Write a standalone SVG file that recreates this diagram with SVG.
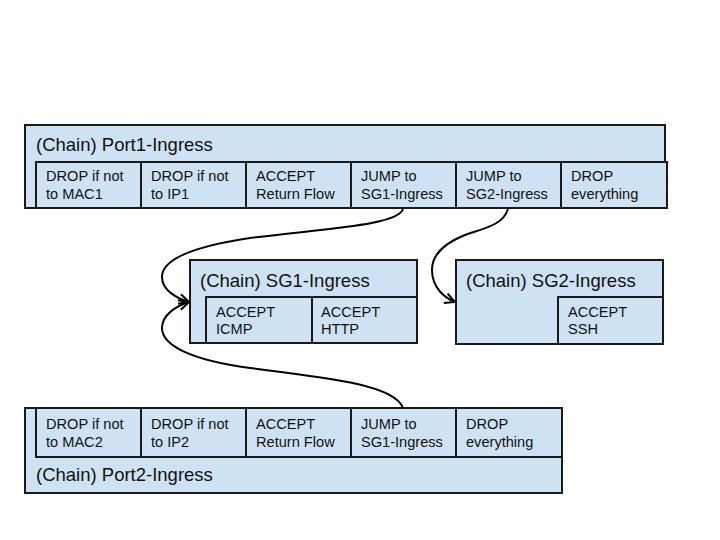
<svg xmlns="http://www.w3.org/2000/svg" width="720" height="540" viewBox="0 0 720 540">
<defs>
<style>
.box{fill:#cfe2f3;stroke:#1a1a1a;stroke-width:2}
.title{font-family:"Liberation Sans",Arial,sans-serif;font-size:18.5px;fill:#111}
.cell{font-family:"Liberation Sans",Arial,sans-serif;font-size:14.6px;fill:#111}
.conn{fill:none;stroke:#000;stroke-width:2}
</style>
<marker id="arr" viewBox="0 0 12 12" refX="11" refY="6" markerWidth="12" markerHeight="12" markerUnits="userSpaceOnUse" orient="auto">
<path d="M1,1 L11,6 L1,11" fill="none" stroke="#000" stroke-width="2"/>
</marker>
</defs>
<rect width="720" height="540" fill="#fff"/>

<g id="port1">
<rect class="box" x="25" y="125" width="640" height="83"/>
<text class="title" x="36" y="151">(Chain) Port1-Ingress</text>
<rect class="box" x="36" y="162" width="105" height="46"/>
<rect class="box" x="141" y="162" width="105" height="46"/>
<rect class="box" x="246" y="162" width="105" height="46"/>
<rect class="box" x="351" y="162" width="105" height="46"/>
<rect class="box" x="456" y="162" width="105" height="46"/>
<rect class="box" x="561" y="162" width="106" height="46"/>
<text class="cell"><tspan x="46" y="181">DROP if not</tspan><tspan x="46" y="199">to MAC1</tspan></text>
<text class="cell"><tspan x="151" y="181">DROP if not</tspan><tspan x="151" y="199">to IP1</tspan></text>
<text class="cell"><tspan x="256" y="181">ACCEPT</tspan><tspan x="256" y="199">Return Flow</tspan></text>
<text class="cell"><tspan x="361" y="181">JUMP to</tspan><tspan x="361" y="199">SG1-Ingress</tspan></text>
<text class="cell"><tspan x="466" y="181">JUMP to</tspan><tspan x="466" y="199">SG2-Ingress</tspan></text>
<text class="cell"><tspan x="571" y="181">DROP</tspan><tspan x="571" y="199">everything</tspan></text>
</g>

<g id="sg1">
<rect class="box" x="190" y="260" width="227" height="83"/>
<text class="title" x="200" y="287">(Chain) SG1-Ingress</text>
<rect class="box" x="206" y="297" width="106" height="46"/>
<rect class="box" x="312" y="297" width="105" height="46"/>
<text class="cell"><tspan x="216" y="317">ACCEPT</tspan><tspan x="216" y="334">ICMP</tspan></text>
<text class="cell"><tspan x="321" y="317">ACCEPT</tspan><tspan x="321" y="334">HTTP</tspan></text>
</g>

<g id="sg2">
<rect class="box" x="456" y="260" width="207" height="84"/>
<text class="title" x="466" y="287">(Chain) SG2-Ingress</text>
<rect class="box" x="558" y="297" width="105" height="47"/>
<text class="cell"><tspan x="568" y="317">ACCEPT</tspan><tspan x="568" y="334">SSH</tspan></text>
</g>

<g id="port2">
<rect class="box" x="25" y="408" width="537" height="85"/>
<rect class="box" x="36" y="408" width="105" height="49"/>
<rect class="box" x="141" y="408" width="105" height="49"/>
<rect class="box" x="246" y="408" width="105" height="49"/>
<rect class="box" x="351" y="408" width="105" height="49"/>
<rect class="box" x="456" y="408" width="106" height="49"/>
<text class="cell"><tspan x="46" y="429">DROP if not</tspan><tspan x="46" y="447">to MAC2</tspan></text>
<text class="cell"><tspan x="151" y="429">DROP if not</tspan><tspan x="151" y="447">to IP2</tspan></text>
<text class="cell"><tspan x="256" y="429">ACCEPT</tspan><tspan x="256" y="447">Return Flow</tspan></text>
<text class="cell"><tspan x="361" y="429">JUMP to</tspan><tspan x="361" y="447">SG1-Ingress</tspan></text>
<text class="cell"><tspan x="466" y="429">DROP</tspan><tspan x="466" y="447">everything</tspan></text>
<text class="title" x="36" y="481">(Chain) Port2-Ingress</text>
</g>

<g id="connectors">
<path class="conn" marker-end="url(#arr)" d="M403,209 C398,225 330,228 250,238 C190,247 162,260 162,277 C162,290 176,298 189,302"/>
<path class="conn" marker-end="url(#arr)" d="M403,408 C395,385 330,378 250,368 C190,360 162,345 162,328 C162,315 176,306 189,302"/>
<path class="conn" marker-end="url(#arr)" d="M508,209 C503,225 485,228 465,235 C440,245 432,258 432,270 C432,288 445,298 455,302"/>
</g>
</svg>
